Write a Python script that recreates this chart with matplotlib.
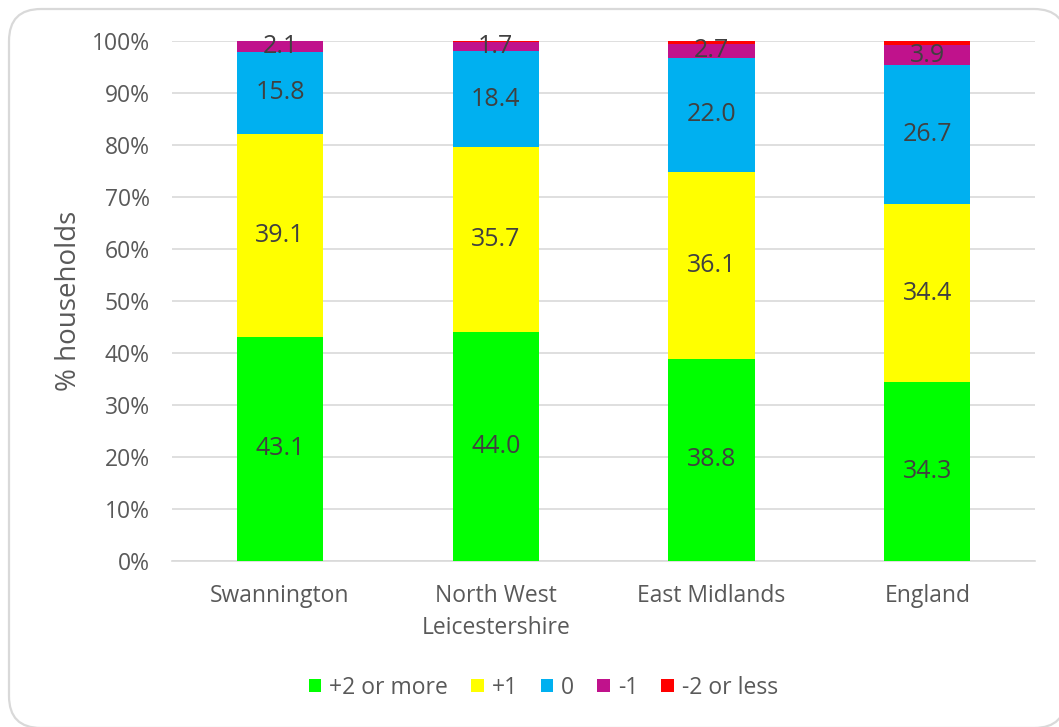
import numpy as np
import matplotlib
matplotlib.use('Agg')
import matplotlib.pyplot as plt
from matplotlib.patches import FancyBboxPatch

plt.rcParams['font.family'] = ['Open Sans', 'DejaVu Sans']

areas = ['Swannington', 'North West\nLeicestershire', 'East Midlands', 'England']
series = ['+2 or more', '+1', '0', '-1', '-2 or less']
plus2 = [43.1, 44.0, 38.8, 34.3]
plus1 = [39.1, 35.7, 36.1, 34.4]
zero = [15.8, 18.4, 22.0, 26.7]
minus1 = [2.1, 1.7, 2.7, 3.9]
minus2 = [0.0, 0.2, 0.4, 0.7]
colours = ['#00ff00', '#ffff00', '#00b0f0', '#c0128c', '#ff0000']

W, H = 1059, 727
fig = plt.figure(figsize=(W / 100, H / 100), dpi=100)
fig.patch.set_facecolor('white')

# rounded outer frame, running off the right and bottom edges
# (filled white so Agg does not clip the curved corners oddly)
frame = FancyBboxPatch((9 / W, -1 / H), 1057 / W, 719 / H,
                       boxstyle=f'round,pad=0,rounding_size={32 / W}',
                       mutation_aspect=W / H, transform=fig.transFigure,
                       facecolor='white', edgecolor='#d9d9d9', linewidth=1.6, zorder=-1)
fig.patches.append(frame)

ax = fig.add_axes([0.1625, 0.229, 0.815, 0.714])
ax.patch.set_alpha(0)
x = np.arange(len(areas))
bottom = np.zeros(len(areas))
all_vals = [plus2, plus1, zero, minus1, minus2]
for name, vals, col in zip(series, all_vals, colours):
    vals = np.array(vals)
    ax.bar(x, vals, 0.4, bottom=bottom, color=col, label=name, zorder=3)
    if name != '-2 or less':
        for xi, b, v in zip(x, bottom, vals):
            ax.text(xi, b + v / 2, f'{v:.1f}', ha='center', va='center',
                    fontsize=18, color='#404040', zorder=4)
    bottom += vals

ax.set_xlim(-0.5, len(areas) - 0.5)
ax.set_ylim(0, 100)
ax.set_yticks(np.arange(0, 101, 10))
ax.set_yticklabels([f'{t}%' for t in range(0, 101, 10)])
ax.set_xticks(x)
ax.set_xticklabels(areas, linespacing=1.45)
ax.tick_params(axis='both', length=0, labelsize=16.5, labelcolor='#595959')
ax.tick_params(axis='x', pad=17)
ax.tick_params(axis='y', pad=16)
ax.grid(axis='y', color='#d9d9d9', linewidth=1.2, zorder=0)
for side in ['top', 'right', 'left']:
    ax.spines[side].set_visible(False)
ax.spines['bottom'].set_color('#d9d9d9')
ax.spines['bottom'].set_linewidth(1.2)
ax.set_ylabel('% households', fontsize=20, color='#595959', labelpad=6)

ax.legend(loc='center', bbox_to_anchor=(0.43, -0.245), ncol=5, frameon=False,
          fontsize=16.5, labelcolor='#595959', handlelength=0.55, handleheight=0.55,
          handletextpad=0.35, columnspacing=1.0)

fig.savefig('out.png', dpi=100, facecolor='white')
